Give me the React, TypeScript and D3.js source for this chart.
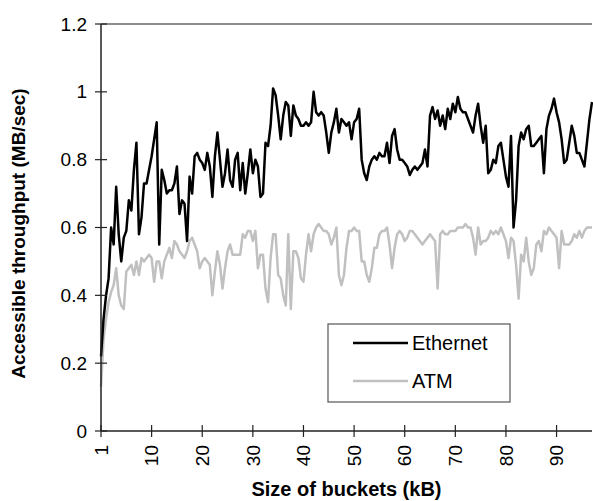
import React, { useRef, useEffect } from 'react';
import * as d3 from 'd3';

// Measured throughput, one value every half step on the bucket-size axis
const ethernet = [
  0.22, 0.33, 0.40, 0.45, 0.60, 0.55, 0.72, 0.58, 0.50, 0.57,
  0.59, 0.68, 0.65, 0.77, 0.85, 0.58, 0.63, 0.73, 0.73, 0.77,
  0.81, 0.86, 0.91, 0.55, 0.77, 0.74, 0.70, 0.71, 0.71, 0.73,
  0.78, 0.64, 0.68, 0.67, 0.56, 0.75, 0.70, 0.81, 0.82, 0.80,
  0.79, 0.77, 0.82, 0.78, 0.69, 0.81, 0.88, 0.80, 0.72, 0.76,
  0.83, 0.74, 0.72, 0.80, 0.82, 0.71, 0.79, 0.70, 0.76, 0.83,
  0.76, 0.80, 0.78, 0.69, 0.70, 0.85, 0.84, 0.90, 1.01, 0.99,
  0.93, 0.86, 0.93, 0.97, 0.96, 0.87, 0.96, 0.93, 0.92, 0.90,
  0.90, 0.91, 0.90, 0.91, 1.00, 0.94, 0.93, 0.94, 0.93, 0.88,
  0.82, 0.88, 0.91, 0.95, 0.88, 0.92, 0.91, 0.90, 0.91, 0.86,
  0.91, 0.92, 0.95, 0.80, 0.76, 0.74, 0.78, 0.80, 0.81, 0.80,
  0.82, 0.81, 0.81, 0.85, 0.79, 0.87, 0.89, 0.83, 0.80, 0.80,
  0.79, 0.78, 0.755, 0.77, 0.78, 0.77, 0.78, 0.79, 0.83, 0.78,
  0.93, 0.955, 0.92, 0.945, 0.90, 0.93, 0.89, 0.95, 0.92, 0.965,
  0.94, 0.985, 0.95, 0.94, 0.94, 0.92, 0.90, 0.88, 0.93, 0.965,
  0.90, 0.85, 0.90, 0.76, 0.77, 0.80, 0.79, 0.84, 0.85, 0.80,
  0.75, 0.72, 0.87, 0.60, 0.68, 0.84, 0.88, 0.86, 0.89, 0.90,
  0.84, 0.84, 0.85, 0.86, 0.87, 0.76, 0.89, 0.93, 0.95, 0.98,
  0.94, 0.91, 0.86, 0.79, 0.80, 0.85, 0.90, 0.87, 0.82, 0.82,
  0.80, 0.78, 0.85, 0.92, 0.97,
];

const atm = [
  0.13, 0.27, 0.33, 0.38, 0.41, 0.43, 0.48, 0.40, 0.37, 0.36,
  0.47, 0.48, 0.49, 0.46, 0.50, 0.46, 0.51, 0.50, 0.51, 0.52,
  0.51, 0.44, 0.50, 0.50, 0.45, 0.50, 0.52, 0.54, 0.51, 0.56,
  0.55, 0.53, 0.52, 0.51, 0.53, 0.56, 0.57, 0.55, 0.53, 0.48,
  0.50, 0.51, 0.50, 0.49, 0.40, 0.47, 0.53, 0.49, 0.42, 0.48,
  0.53, 0.55, 0.52, 0.52, 0.52, 0.52, 0.58, 0.57, 0.59, 0.59,
  0.56, 0.59, 0.48, 0.52, 0.52, 0.42, 0.38, 0.51, 0.58, 0.58,
  0.46, 0.45, 0.40, 0.37, 0.58, 0.36, 0.53, 0.53, 0.51, 0.45,
  0.44, 0.52, 0.58, 0.53, 0.58, 0.60, 0.61, 0.60, 0.59, 0.59,
  0.58, 0.55, 0.57, 0.60, 0.46, 0.43, 0.46, 0.54, 0.59, 0.59,
  0.60, 0.59, 0.59, 0.50, 0.50, 0.46, 0.44, 0.48, 0.54, 0.54,
  0.58, 0.59, 0.59, 0.60, 0.55, 0.48, 0.54, 0.58, 0.59, 0.58,
  0.56, 0.57, 0.59, 0.59, 0.58, 0.57, 0.56, 0.55, 0.56, 0.57,
  0.58, 0.57, 0.56, 0.42, 0.58, 0.59, 0.58, 0.58, 0.59, 0.59,
  0.59, 0.60, 0.60, 0.60, 0.61, 0.60, 0.60, 0.57, 0.52, 0.60,
  0.55, 0.56, 0.56, 0.57, 0.59, 0.58, 0.59, 0.58, 0.60, 0.58,
  0.56, 0.51, 0.57, 0.56, 0.49, 0.39, 0.52, 0.50, 0.57, 0.50,
  0.46, 0.48, 0.55, 0.56, 0.53, 0.59, 0.58, 0.60, 0.59, 0.58,
  0.57, 0.48, 0.59, 0.55, 0.55, 0.55, 0.56, 0.58, 0.57, 0.59,
  0.57, 0.59, 0.60, 0.60, 0.60,
];

const xStep = 0.5;
const xTicks = [0, 10, 20, 30, 40, 50, 60, 70, 80, 90];
const xTickLabels = ['1', '10', '20', '30', '40', '50', '60', '70', '80', '90'];
const yTicks = [0, 0.2, 0.4, 0.6, 0.8, 1, 1.2];
const yTickLabels = ['0', '0.2', '0.4', '0.6', '0.8', '1', '1.2'];
const seriesNames = ['Ethernet', 'ATM'];
const seriesColors = ['#000000', '#c0c0c0'];

const W = 593;
const H = 501;
const FONT = 'Arial, "Liberation Sans", sans-serif';

export default function App() {
  const ref = useRef<SVGSVGElement>(null);

  useEffect(() => {
    const svg = d3.select(ref.current);
    svg.selectAll('*').remove();

    const margin = { top: 24, right: 1, bottom: 70, left: 101 };
    const x = d3.scaleLinear().domain([0, 97]).range([margin.left, W - margin.right]);
    const y = d3.scaleLinear().domain([0, 1.2]).range([H - margin.bottom, margin.top]);

    // top border line at 1.2
    svg.append('line')
      .attr('x1', x(0)).attr('x2', x(97))
      .attr('y1', y(1.2)).attr('y2', y(1.2))
      .attr('stroke', '#8c8c8c').attr('stroke-width', 2);

    // series, ATM underneath
    const line = d3.line<number>()
      .x((d, i) => x(i * xStep))
      .y(d => y(d));

    [atm, ethernet].forEach((data, k) => {
      const color = k === 0 ? seriesColors[1] : seriesColors[0];
      svg.append('path')
        .datum(data)
        .attr('fill', 'none')
        .attr('stroke', color)
        .attr('stroke-width', 2.5)
        .attr('stroke-linejoin', 'round')
        .attr('d', line);
    });

    // y axis
    svg.append('line')
      .attr('x1', x(0)).attr('x2', x(0))
      .attr('y1', y(0)).attr('y2', y(1.2))
      .attr('stroke', '#222').attr('stroke-width', 1.5);
    yTicks.forEach((t, i) => {
      svg.append('line')
        .attr('x1', x(0) - 6).attr('x2', x(0) + 6)
        .attr('y1', y(t)).attr('y2', y(t))
        .attr('stroke', '#222').attr('stroke-width', 1.2);
      svg.append('text')
        .attr('x', x(0) - 14)
        .attr('y', y(t))
        .attr('dy', '0.35em')
        .attr('text-anchor', 'end')
        .attr('font-size', 19)
        .attr('font-family', FONT)
        .attr('fill', '#000')
        .text(yTickLabels[i]);
    });

    // x axis
    svg.append('line')
      .attr('x1', x(0)).attr('x2', x(97))
      .attr('y1', y(0)).attr('y2', y(0))
      .attr('stroke', '#222').attr('stroke-width', 1.5);
    xTicks.forEach((t, i) => {
      svg.append('line')
        .attr('x1', x(t)).attr('x2', x(t))
        .attr('y1', y(0) - 6).attr('y2', y(0) + 6)
        .attr('stroke', '#222').attr('stroke-width', 1.2);
      svg.append('text')
        .attr('transform', `translate(${x(t)},${y(0) + 14}) rotate(-90)`)
        .attr('dy', '0.35em')
        .attr('text-anchor', 'end')
        .attr('font-size', 19)
        .attr('font-family', FONT)
        .attr('fill', '#000')
        .text(xTickLabels[i]);
    });

    // axis titles
    svg.append('text')
      .attr('x', (x(0) + x(97)) / 2)
      .attr('y', 496)
      .attr('text-anchor', 'middle')
      .attr('font-size', 20)
      .attr('font-weight', 'bold')
      .attr('font-family', FONT)
      .text('Size of buckets (kB)');

    svg.append('text')
      .attr('transform', `translate(25,${(y(0) + y(1.2)) / 2 + 6}) rotate(-90)`)
      .attr('text-anchor', 'middle')
      .attr('font-size', 19)
      .attr('font-weight', 'bold')
      .attr('font-family', FONT)
      .text('Accessible throughput (MB/sec)');

    // legend
    const legend = svg.append('g').attr('transform', 'translate(328,324)');
    legend.append('rect')
      .attr('width', 182).attr('height', 78)
      .attr('fill', '#fff')
      .attr('stroke', '#555').attr('stroke-width', 1.2);
    seriesNames.forEach((name, i) => {
      const ly = 19 + i * 38;
      legend.append('line')
        .attr('x1', 25).attr('x2', 80)
        .attr('y1', ly).attr('y2', ly)
        .attr('stroke', seriesColors[i]).attr('stroke-width', 2.5);
      legend.append('text')
        .attr('x', 84).attr('y', ly)
        .attr('dy', '0.35em')
        .attr('font-size', 20)
        .attr('font-family', FONT)
        .text(name);
    });
  }, []);

  return (
    <svg
      ref={ref}
      width={W}
      height={H}
      style={{ position: 'absolute', left: 0, top: 0, background: '#fff' }}
    />
  );
}
